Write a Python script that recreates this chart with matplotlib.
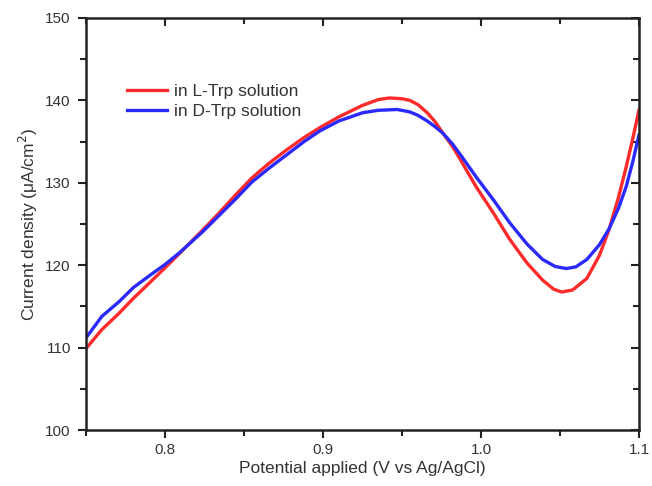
import matplotlib
matplotlib.use('Agg')
import matplotlib.pyplot as plt
from matplotlib.ticker import MultipleLocator

# L-Trp (red)
x_l = [0.750, 0.760, 0.771, 0.780, 0.792, 0.800, 0.809, 0.824, 0.834, 0.845,
       0.855, 0.866, 0.877, 0.888, 0.898, 0.910, 0.925, 0.935, 0.942, 0.950,
       0.955, 0.960, 0.966, 0.971, 0.976, 0.982, 0.987, 0.997, 1.008, 1.018,
       1.029, 1.039, 1.046, 1.051, 1.058, 1.067, 1.075, 1.081, 1.087, 1.092,
       1.096, 1.100]
y_l = [109.9, 112.2, 114.2, 116.0, 118.2, 119.7, 121.4, 124.3, 126.3, 128.6,
       130.6, 132.4, 134.0, 135.5, 136.7, 138.0, 139.4, 140.1, 140.3, 140.2,
       140.0, 139.5, 138.5, 137.4, 136.0, 134.4, 132.8, 129.5, 126.3, 123.2,
       120.3, 118.2, 117.1, 116.75, 117.0, 118.4, 121.2, 124.3, 128.2, 132.0,
       135.3, 138.8]

# D-Trp (blue)
x_d = [0.750, 0.760, 0.771, 0.780, 0.792, 0.800, 0.809, 0.824, 0.834, 0.845,
       0.855, 0.866, 0.877, 0.888, 0.898, 0.910, 0.925, 0.935, 0.947, 0.955,
       0.960, 0.966, 0.971, 0.976, 0.982, 0.987, 0.997, 1.008, 1.018, 1.029,
       1.039, 1.047, 1.054, 1.060, 1.067, 1.075, 1.081, 1.087, 1.092, 1.096,
       1.100]
y_d = [111.2, 113.8, 115.6, 117.3, 119.0, 120.1, 121.5, 124.1, 126.0, 128.1,
       130.1, 131.8, 133.4, 135.0, 136.3, 137.5, 138.5, 138.8, 138.9, 138.6,
       138.2, 137.5, 136.8, 136.0, 134.7, 133.4, 130.7, 127.9, 125.2, 122.6,
       120.7, 119.85, 119.6, 119.8, 120.7, 122.5, 124.4, 126.9, 129.6, 132.5,
       135.8]

labels = ['in L-Trp solution', 'in D-Trp solution']

plt.rcParams['font.family'] = ['Liberation Sans', 'DejaVu Sans']
txt = '#333333'

fig = plt.figure(figsize=(6.52, 4.86), dpi=100)
ax = fig.add_axes([0.132, 0.115, 0.848, 0.848])

ax.plot(x_l, y_l, color='#ff2a2a', lw=2.4, label=labels[0])
ax.plot(x_d, y_d, color='#2a2aff', lw=2.4, label=labels[1])

ax.set_xlim(0.75, 1.1)
ax.set_ylim(100, 150)
ax.xaxis.set_minor_locator(MultipleLocator(0.05))
ax.yaxis.set_major_locator(MultipleLocator(10))
ax.yaxis.set_minor_locator(MultipleLocator(5))
ax.set_xticks([0.8, 0.9, 1.0, 1.1])
ax.set_xticklabels(['0.8', '0.9', '1.0', '1.1'])

for s in ax.spines.values():
    s.set_linewidth(1.8)
    s.set_color('#222222')

ax.tick_params(which='both', direction='out', width=1.5, colors='#222222',
               labelcolor=txt, labelsize=11)
ax.tick_params(which='major', length=6)
ax.tick_params(which='minor', length=4)
ax.tick_params(axis='y', pad=5)

# mirrored ticks pointing in on top and right
top = ax.secondary_xaxis('top')
top.set_xticks([0.8, 0.9, 1.0, 1.1])
top.xaxis.set_minor_locator(MultipleLocator(0.05))
top.tick_params(which='both', direction='in', width=1.5, colors='#222222', labeltop=False)
top.tick_params(which='major', length=6)
top.tick_params(which='minor', length=4)
top.spines['top'].set_visible(False)
right = ax.secondary_yaxis('right')
right.yaxis.set_major_locator(MultipleLocator(10))
right.yaxis.set_minor_locator(MultipleLocator(5))
right.tick_params(which='both', direction='in', width=1.5, colors='#222222', labelright=False)
right.tick_params(which='major', length=6)
right.tick_params(which='minor', length=4)
right.spines['right'].set_visible(False)

ax.set_xlabel('Potential applied (V vs Ag/AgCl)', fontsize=12.5, color=txt, labelpad=3)
ax.set_ylabel('Current density (\u03bcA/cm$^2$)', fontsize=12.5, color=txt, labelpad=4)

ax.legend(loc='upper left', bbox_to_anchor=(0.074, 0.84), frameon=False,
          fontsize=12.5, handlelength=2.3, handletextpad=0.4, labelspacing=0.3,
          borderpad=0, borderaxespad=0, labelcolor=txt)

fig.savefig('out.png', dpi=100)
